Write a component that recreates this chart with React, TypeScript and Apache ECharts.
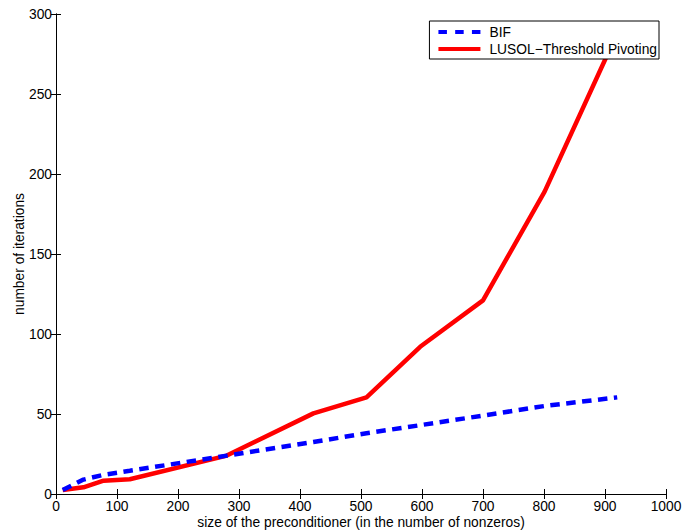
import React, { useEffect, useRef } from "react";
import * as echarts from "echarts";

const xTicksMax = 1000;
const yTicksMax = 300;
const bifX = [11, 45, 78, 121, 280, 422, 509, 597, 700, 801, 920];
const bifY = [2.5, 9, 12, 14.5, 24, 32.5, 38, 43, 49, 55, 60.4];
const lusolX = [11, 45, 78, 121, 280, 422, 509, 597, 700, 801, 920];
const lusolY = [2.5, 4.2, 8.3, 9.2, 24, 50.4, 60.4, 92, 121, 189, 288];
const seriesNames = ["BIF", "LUSOL\u2212Threshold Pivoting"];
const xName = "size of the preconditioner (in the number of nonzeros)";
const yName = "number of iterations";

const FONT = "'Liberation Sans', Arial, Helvetica, sans-serif";
const FS = 13.8;

const dashIcon = "path://M0,0h8.5v4h-8.5z M16.75,0h8.5v4h-8.5z M33.5,0h8.5v4h-8.5z";
const solidIcon = "path://M0,0h42v4h-42z";

export default function App() {
  const ref = useRef<HTMLDivElement>(null);
  useEffect(() => {
    if (!ref.current) return;
    const chart = echarts.init(ref.current, null, { renderer: "svg" });
    const axisLine = { show: true, lineStyle: { color: "#000", width: 1 } };
    const tick = { show: true, inside: true, length: 5, lineStyle: { color: "#000", width: 1 } };
    const label = { color: "#000", fontSize: FS, fontFamily: FONT };
    chart.setOption({
      animation: false,
      backgroundColor: "#fff",
      textStyle: { fontFamily: FONT },
      grid: { left: 56, right: 17, top: 14, bottom: 36, containLabel: false, outerBoundsMode: "none" },
      legend: {
        orient: "vertical",
        right: 24,
        top: 21,
        data: [
          { name: seriesNames[0], icon: dashIcon, itemStyle: { color: "#0000ff" } },
          { name: seriesNames[1], icon: solidIcon, itemStyle: { color: "#ff0000" } },
        ],
        itemWidth: 42,
        itemHeight: 14,
        itemGap: 3,
        padding: [4, 2, 3, 9],
        borderColor: "#000",
        borderWidth: 1,
        borderRadius: 0,
        backgroundColor: "#fff",
        textStyle: { color: "#000", fontSize: FS, fontFamily: FONT, padding: [0, 0, 0, 4] },
      },
      xAxis: [
        {
          type: "value",
          min: 0,
          max: xTicksMax,
          interval: 100,
          name: xName,
          nameLocation: "middle",
          nameGap: 21,
          nameMoveOverlap: false,
          nameTextStyle: { color: "#000", fontSize: FS, fontFamily: FONT, lineHeight: 14 },
          axisLine,
          axisTick: tick,
          axisLabel: { ...label, margin: 5, formatter: (v: number) => String(v) },
          splitLine: { show: false },
        },
        {
          type: "value",
          position: "top",
          min: 0,
          max: xTicksMax,
          interval: 100,
          axisLine,
          axisTick: tick,
          axisLabel: { show: false },
          splitLine: { show: false },
        },
      ],
      yAxis: [
        {
          type: "value",
          min: 0,
          max: yTicksMax,
          interval: 50,
          name: yName,
          nameLocation: "middle",
          nameGap: 30,
          nameMoveOverlap: false,
          nameTextStyle: { color: "#000", fontSize: FS, fontFamily: FONT, lineHeight: 14 },
          axisLine,
          axisTick: tick,
          axisLabel: { ...label, margin: 4 },
          splitLine: { show: false },
        },
        {
          type: "value",
          position: "right",
          min: 0,
          max: yTicksMax,
          interval: 50,
          axisLine,
          axisTick: tick,
          axisLabel: { show: false },
          splitLine: { show: false },
        },
      ],
      series: [
        {
          name: seriesNames[0],
          type: "line",
          data: bifX.map((x, i) => [x, bifY[i]]),
          showSymbol: false,
          symbol: "none",
          lineStyle: { color: "#0000ff", width: 4.5, type: [9.5, 6.5] },
          itemStyle: { color: "#0000ff" },
          z: 3,
        },
        {
          name: seriesNames[1],
          type: "line",
          data: lusolX.map((x, i) => [x, lusolY[i]]),
          showSymbol: false,
          symbol: "none",
          lineStyle: { color: "#ff0000", width: 4.5 },
          itemStyle: { color: "#ff0000" },
          z: 2,
        },
      ],
    });
    return () => chart.dispose();
  }, []);
  return <div ref={ref} style={{ width: 683, height: 530, position: "absolute", left: 0, top: 0 }} />;
}
